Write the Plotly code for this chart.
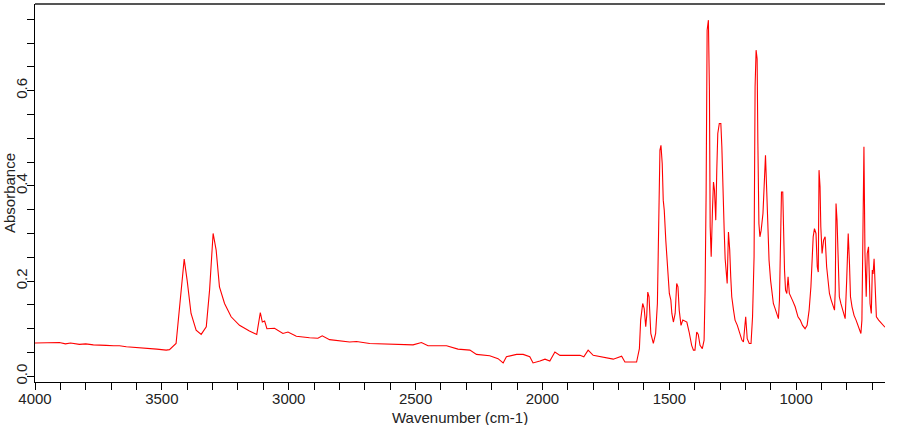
import plotly.graph_objects as go

# Wavenumber (cm-1) and absorbance
wavenumber = [
    4000, 3960, 3930, 3904, 3880, 3860, 3825, 3800, 3770, 3746, 3720, 3690, 3667, 3640, 3610, 3589,
    3549, 3520, 3483, 3470, 3444, 3427, 3412, 3400, 3385, 3365, 3345, 3325, 3312, 3298, 3286,
    3273, 3253, 3227, 3194, 3155, 3126, 3112, 3104, 3095, 3086, 3056, 3023, 3003, 2970, 2918,
    2885, 2868, 2839, 2760, 2733, 2681, 2563, 2510, 2477, 2451, 2378, 2333, 2286, 2260, 2208,
    2175, 2155, 2142, 2102, 2076, 2050, 2037, 2010, 1990, 1971, 1951, 1931, 1852, 1837, 1820,
    1800, 1747, 1721, 1688, 1675, 1629, 1618, 1613, 1605, 1599, 1593, 1589, 1585, 1580, 1573,
    1563, 1554, 1547, 1542, 1537, 1533, 1528, 1524, 1520, 1514, 1509, 1504, 1500, 1494, 1490,
    1484, 1477, 1471, 1466, 1461, 1454, 1447, 1431, 1422, 1412, 1405, 1399, 1392, 1386, 1379,
    1370, 1363, 1359, 1355, 1351, 1346, 1342, 1339, 1335, 1330, 1326, 1322, 1317, 1313, 1309,
    1303, 1297, 1293, 1289, 1284, 1280, 1276, 1272, 1267, 1262, 1258, 1254, 1247, 1241, 1232,
    1224, 1214, 1208, 1204, 1199, 1193, 1185, 1178, 1172, 1166, 1162, 1158, 1154, 1151, 1147,
    1143, 1138, 1131, 1126, 1121, 1116, 1112, 1107, 1101, 1096, 1090, 1083, 1076, 1070, 1066,
    1062, 1058, 1053, 1050, 1046, 1042, 1037, 1032, 1027, 1015, 1004, 993, 984, 975, 965,
    957, 949, 942, 938, 933, 928, 922, 917, 913, 910, 906, 903, 898, 892, 886,
    880, 875, 869, 862, 855, 849, 846, 843, 839, 835, 830, 824, 816, 807, 801,
    797, 795, 790, 786, 780, 772, 764, 757, 750, 745, 741, 737, 733, 729, 724,
    720, 715, 709, 704, 700, 697, 693, 690, 684, 675, 665, 653, 650,
]
absorbance = [
    0.070, 0.070, 0.070, 0.071, 0.068, 0.070, 0.067, 0.068, 0.066, 0.066, 0.065, 0.064, 0.064, 0.062, 0.061, 0.060,
    0.058, 0.057, 0.055, 0.056, 0.069, 0.160, 0.246, 0.200, 0.132, 0.097, 0.088, 0.104, 0.181, 0.300, 0.265,
    0.188, 0.153, 0.125, 0.107, 0.095, 0.088, 0.134, 0.114, 0.116, 0.100, 0.101, 0.090, 0.093, 0.084, 0.081,
    0.080, 0.085, 0.077, 0.072, 0.073, 0.069, 0.067, 0.066, 0.071, 0.064, 0.064, 0.057, 0.055, 0.046, 0.043,
    0.037, 0.028, 0.041, 0.046, 0.046, 0.041, 0.028, 0.032, 0.036, 0.032, 0.051, 0.044, 0.044, 0.041, 0.055,
    0.044, 0.038, 0.036, 0.042, 0.030, 0.030, 0.058, 0.118, 0.153, 0.142, 0.104, 0.128, 0.177, 0.167, 0.090,
    0.069, 0.090, 0.153, 0.286, 0.475, 0.485, 0.447, 0.370, 0.349, 0.286, 0.244, 0.216, 0.174, 0.160, 0.132,
    0.114, 0.132, 0.195, 0.188, 0.139, 0.107, 0.118, 0.114, 0.093, 0.065, 0.055, 0.055, 0.093, 0.088, 0.065,
    0.058, 0.076, 0.181, 0.384, 0.727, 0.748, 0.601, 0.314, 0.251, 0.349, 0.408, 0.391, 0.328, 0.433, 0.510,
    0.531, 0.531, 0.482, 0.370, 0.310, 0.247, 0.223, 0.195, 0.303, 0.265, 0.209, 0.167, 0.139, 0.118, 0.107,
    0.093, 0.076, 0.072, 0.104, 0.125, 0.079, 0.069, 0.069, 0.125, 0.251, 0.608, 0.685, 0.667, 0.489, 0.321,
    0.293, 0.307, 0.342, 0.408, 0.464, 0.387, 0.307, 0.244, 0.202, 0.174, 0.153, 0.142, 0.132, 0.121, 0.160,
    0.272, 0.387, 0.387, 0.279, 0.223, 0.181, 0.174, 0.209, 0.174, 0.160, 0.146, 0.125, 0.118, 0.107, 0.100,
    0.107, 0.139, 0.188, 0.230, 0.293, 0.310, 0.300, 0.230, 0.219, 0.433, 0.398, 0.314, 0.258, 0.286, 0.293,
    0.230, 0.202, 0.174, 0.160, 0.146, 0.139, 0.181, 0.363, 0.328, 0.223, 0.167, 0.153, 0.135, 0.121, 0.202,
    0.279, 0.300, 0.237, 0.167, 0.146, 0.128, 0.118, 0.107, 0.093, 0.090, 0.118, 0.384, 0.482, 0.258, 0.167,
    0.258, 0.272, 0.153, 0.132, 0.223, 0.215, 0.247, 0.195, 0.125, 0.118, 0.111, 0.104, 0.103,
]

x_ticks = [4000, 3500, 3000, 2500, 2000, 1500, 1000]
y_ticks = [0.0, 0.2, 0.4, 0.6]
y_tick_text = ["0.0", "0.2", "0.4", "0.6"]

FONT = "Liberation Sans, Arial, sans-serif"

fig = go.Figure()
fig.add_trace(go.Scatter(
    x=wavenumber, y=absorbance, mode="lines",
    line=dict(color="#ff0000", width=1.1), showlegend=False,
))

fig.update_layout(
    width=900, height=425,
    margin=dict(l=35, r=15, t=4, b=43),
    paper_bgcolor="white", plot_bgcolor="white",
    font=dict(family=FONT, size=15, color="#222222"),
    xaxis=dict(
        range=[4000, 650], tickvals=x_ticks,
        ticks="outside", ticklen=7, tickcolor="#000000", tickwidth=1,
        showline=True, linecolor="#000000", linewidth=1.3,
        showgrid=False, zeroline=False, ticklabelstandoff=-4,
        minor=dict(dtick=100, tick0=0, ticks="outside", ticklen=7, tickcolor="#000000", showgrid=False),
        mirror=False,
    ),
    yaxis=dict(
        range=[-0.012, 0.782], tickvals=y_ticks, ticktext=y_tick_text, tickangle=-90,
        ticks="outside", ticklen=7, tickcolor="#000000", tickwidth=1,
        showline=True, linecolor="#000000", linewidth=1.3,
        showgrid=False, zeroline=False, ticklabelstandoff=-6,
        minor=dict(dtick=0.05, tick0=0, ticks="outside", ticklen=7, tickcolor="#000000", showgrid=False),
    ),
    shapes=[dict(type="line", xref="paper", yref="paper", x0=0, x1=1, y0=1, y1=1,
                 line=dict(color="#555555", width=2))],
    annotations=[
        dict(text="Wavenumber (cm-1)", xref="paper", yref="paper", x=0.5, y=0,
             xanchor="center", yanchor="middle", yshift=-35, showarrow=False,
             font=dict(family=FONT, size=15, color="#222222")),
        dict(text="Absorbance", xref="paper", yref="paper", x=0, y=0.5,
             xanchor="center", yanchor="middle", xshift=-26, textangle=-90, showarrow=False,
             font=dict(family=FONT, size=15, color="#222222")),
    ],
)

fig.write_html("out.html", config={"displayModeBar": False},
               post_script="document.body.style.margin='0px';document.body.style.overflow='hidden';")
